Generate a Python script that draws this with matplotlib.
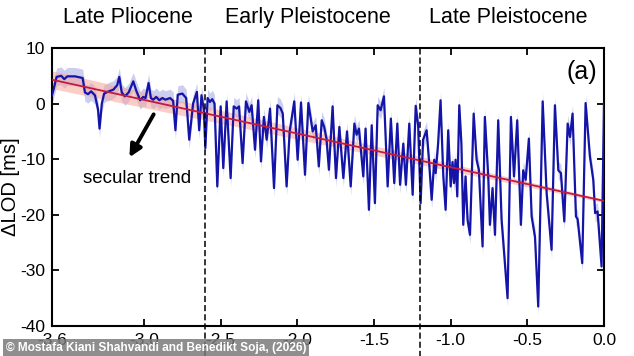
import matplotlib
matplotlib.use('Agg')
import matplotlib.pyplot as plt
import numpy as np

plt.rcParams['font.family'] = ['Liberation Sans', 'DejaVu Sans']

# time in Myr (negative = past), turning points of the ΔLOD curve
t = [-3.600, -3.590, -3.570, -3.540, -3.520, -3.500, -3.450, -3.400, -3.385, -3.365,
     -3.345, -3.320, -3.300, -3.290, -3.275, -3.260, -3.230, -3.200, -3.175, -3.161,
     -3.145, -3.125, -3.100, -3.070, -3.050, -3.025, -3.005, -2.990, -2.970, -2.955,
     -2.940, -2.920, -2.900, -2.880, -2.860, -2.830, -2.810, -2.795, -2.780, -2.750,
     -2.725, -2.705, -2.680, -2.655, -2.640, -2.625, -2.610, -2.600,
     -2.585, -2.570, -2.555, -2.540, -2.522, -2.500, -2.483, -2.461, -2.435, -2.415,
     -2.395, -2.380, -2.357, -2.335, -2.313, -2.298, -2.276, -2.255, -2.237, -2.218,
     -2.200, -2.178, -2.152, -2.130, -2.110, -2.095, -2.070, -2.050, -2.020, -1.998,
     -1.976, -1.950, -1.928, -1.900, -1.880, -1.860, -1.841, -1.825, -1.810, -1.794,
     -1.770, -1.748, -1.726, -1.700, -1.676, -1.652, -1.628, -1.613, -1.598, -1.570,
     -1.555, -1.533, -1.515, -1.494, -1.476, -1.457, -1.435, -1.411, -1.390, -1.368,
     -1.348, -1.330, -1.309, -1.292, -1.270, -1.248, -1.228, -1.212, -1.196,
     -1.180, -1.157, -1.142, -1.124, -1.107, -1.098, -1.082, -1.066, -1.048, -1.033,
     -1.016, -1.000, -0.988, -0.978, -0.968, -0.957, -0.944, -0.930, -0.918, -0.903,
     -0.890, -0.874, -0.850, -0.831, -0.816, -0.792, -0.777, -0.755, -0.744, -0.727,
     -0.711, -0.690, -0.668, -0.629, -0.607, -0.587, -0.566, -0.542, -0.527, -0.511,
     -0.490, -0.472, -0.450, -0.429, -0.400, -0.374, -0.342, -0.320, -0.298, -0.281,
     -0.259, -0.237, -0.222, -0.205, -0.183, -0.172, -0.142, -0.120, -0.092, -0.070,
     -0.058, -0.042, -0.016, 0.000]
dlod = [1.5, 2.5, 4.8, 5.0, 4.4, 4.9, 4.9, 4.6, 2.0, 1.7,
        2.2, 1.5, -1.0, -4.5, 0.0, 1.8, 2.2, 2.5, 3.3, 4.8,
        2.0, 1.3, 2.0, 4.0, 2.3, 0.6, 1.2, 1.0, 3.7, 1.0,
        0.7, 1.2, 0.6, 1.0, 0.7, 1.0, 0.5, -4.8, 1.6, 1.8,
        1.0, -6.5, 0.0, 2.1, -4.8, 1.5, -1.0, -8.0,
        1.0, 0.3, 0.8, 0.0, -14.9, -0.5, -11.6, 0.4, -13.4, -0.5,
        -0.9, -0.5, -10.7, 0.4, -1.5, -0.3, -8.3, 0.6, -10.4, -2.4,
        -6.5, -0.9, -15.2, -0.3, -0.8, -1.8, -14.9, -5.0, 0.4, -10.1,
        0.2, -12.8, 0.1, -5.0, -3.9, -11.3, -3.0, -4.2, -6.3, -11.9,
        -0.5, -13.4, -4.2, -13.4, -5.0, -14.9, -3.6, -5.6, -4.5, -13.1,
        -4.5, -19.1, -3.9, -17.9, -0.3, -1.2, 1.3, -14.9, -2.7, -14.3,
        -3.6, -14.6, -7.2, -14.6, -3.6, -16.4, -0.4, -4.0, -17.9,
        -6.5, -4.8, -10.0, -17.3, -10.1, -12.5, -7.2, 0.6, -13.1, -19.1,
        -4.8, -14.9, -10.5, -14.3, -10.1, -16.7, -0.3, -7.2, -21.8, -13.1,
        -20.9, -23.6, -1.8, -10.1, -11.9, -25.7, -2.4, -13.1, -21.8, -15.2,
        -23.6, -3.0, -20.9, -35.0, -2.4, -13.1, -3.0, -21.8, -12.0, -13.7,
        -6.3, -20.3, -24.0, -36.5, 0.4, -16.2, -26.3, -0.3, -12.0, -12.5,
        -21.2, -3.6, -6.0, -1.8, -20.3, -20.8, -28.7, 0.1, -9.5, -13.7,
        -19.7, -19.4, -29.3, 0.0]
dlod_err = 1.6  # half width of the light blue band

# secular trend (end points) and its uncertainty
trend_t = [-3.6, 0.0]
trend_y = [4.3, -17.5]
trend_err = [1.6, 0.3]

boundaries = [-2.6, -1.2]
epochs = ['Late Pliocene', 'Early Pleistocene', 'Late Pleistocene']
epoch_x = [-3.104, -1.93, -0.626]

t = np.array(t)
dlod = np.array(dlod)
trend_t = np.array(trend_t)
trend_y = np.array(trend_y)
trend_err = np.array(trend_err)

fig = plt.figure(figsize=(6.34, 3.56), dpi=100)
ax = fig.add_axes([0.082, 0.0843, 0.8707, 0.7809])

ax.fill_between(t, dlod - dlod_err, dlod + dlod_err, color='#ccceef', lw=0, zorder=1)
ax.fill_between(trend_t, trend_y - trend_err, trend_y + trend_err, color='#f6a59a',
                alpha=0.55, lw=0, zorder=2)
ax.plot(t, dlod, color='#1414a8', lw=1.6, zorder=3)
ax.plot(trend_t, trend_y, color='#c41a40', lw=1.3, zorder=4)

for b in boundaries:
    ax.axvline(b, ymin=-0.12, ymax=1, color='black', ls=(0, (4, 2)), lw=1.1,
               clip_on=False, zorder=5)

for name, x in zip(epochs, epoch_x):
    ax.text(x, 1.111, name, transform=ax.get_xaxis_transform(), ha='center',
            va='center', fontsize=15.5)

ax.text(0.988, 0.915, '(a)', transform=ax.transAxes, ha='right', va='center', fontsize=18)

ax.annotate('', xy=(-3.104, -10.1), xytext=(-2.928, -1.5),
            arrowprops=dict(arrowstyle='-|>', color='black', lw=2.8, mutation_scale=18))
ax.text(-3.046, -13.4, 'secular trend', ha='center', va='center', fontsize=13.5)

ax.set_xlim(-3.6, 0.0)
ax.set_ylim(-40, 10)
ax.set_xticks([-3.6, -3.0, -2.5, -2.0, -1.5, -1.0, -0.5, 0.0])
ax.set_xticklabels(['-3.6', '-3.0', '-2.5', '-2.0', '-1.5', '-1.0', '-0.5', '0.0'])
ax.set_yticks([-40, -30, -20, -10, 0, 10])
ax.set_yticklabels(['-40', '-30', '-20', '-10', '0', '10'])
ax.tick_params(direction='in', top=True, right=True, length=5, width=1.3,
               labelsize=12.5, pad=5)
for s in ax.spines.values():
    s.set_linewidth(1.5)
ax.set_ylabel('ΔLOD [ms]', fontsize=14.5)
ax.yaxis.set_label_coords(-0.058, 0.5)

# watermark
fig.text(0.0095, 0.023, '© Mostafa Kiani Shahvandi and Benedikt Soja, (2026)',
         color='white', fontsize=8.6, fontweight='bold', ha='left', va='center',
         bbox=dict(boxstyle='square,pad=0.22', fc='#7a7a7a', ec='none', alpha=0.85))

fig.savefig('out.png', dpi=100)
